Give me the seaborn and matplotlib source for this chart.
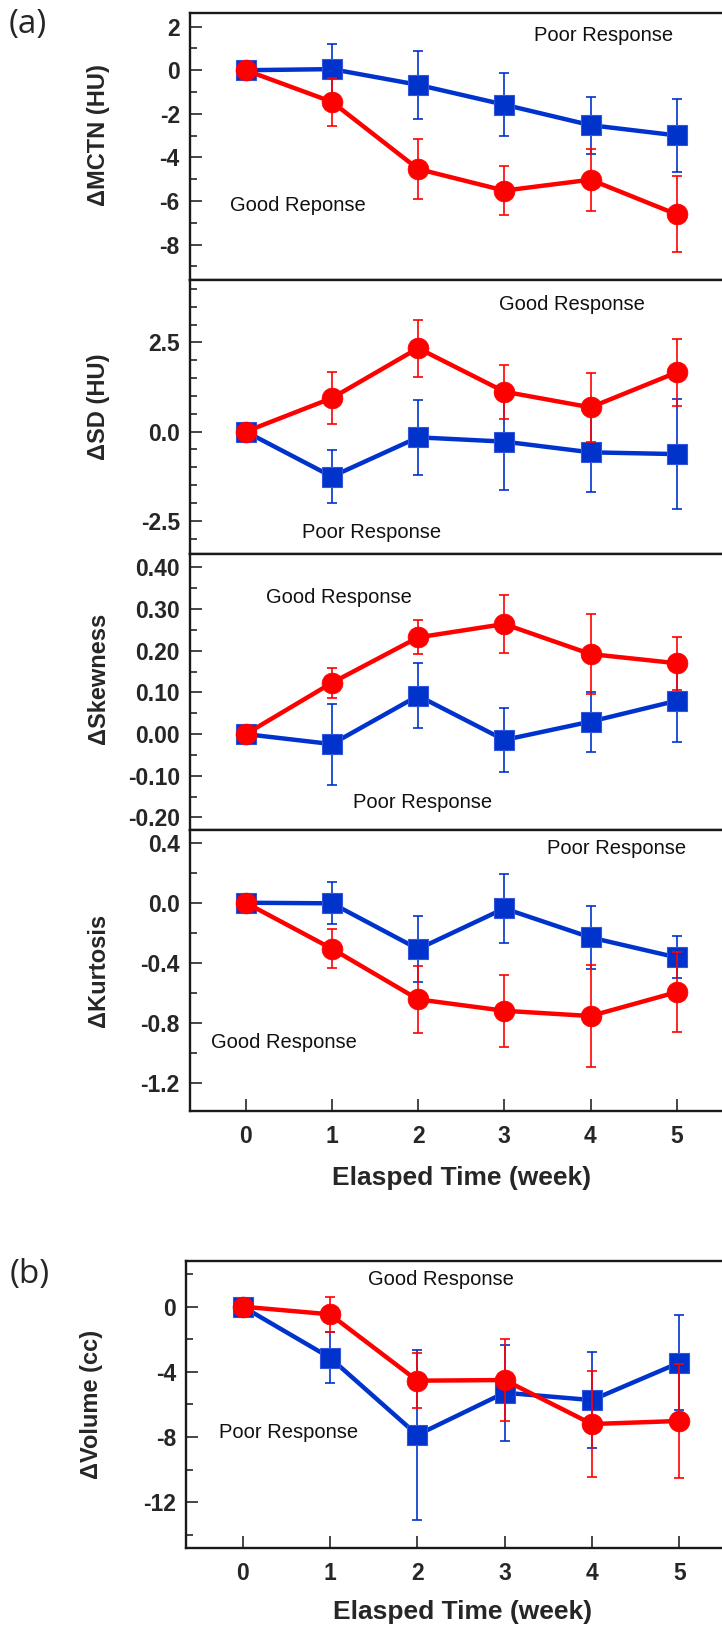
import matplotlib
matplotlib.use("Agg")
import matplotlib.pyplot as plt
import seaborn as sns
import numpy as np
from matplotlib.ticker import MultipleLocator, FormatStrFormatter

# ---------------- data ----------------
weeks = [0, 1, 2, 3, 4, 5]

good_mctn = [0, -1.45, -4.53, -5.52, -5.02, -6.61]
good_mctn_err = [0, 1.10, 1.37, 1.14, 1.43, 1.74]
poor_mctn = [0, 0.05, -0.67, -1.58, -2.52, -2.99]
poor_mctn_err = [0, 1.16, 1.55, 1.45, 1.30, 1.69]

good_sd = [0, 0.94, 2.34, 1.12, 0.68, 1.66]
good_sd_err = [0, 0.73, 0.80, 0.76, 0.97, 0.93]
poor_sd = [0, -1.26, -0.16, -0.28, -0.58, -0.63]
poor_sd_err = [0, 0.74, 1.06, 1.36, 1.12, 1.55]

good_skew = [0, 0.123, 0.232, 0.264, 0.192, 0.170]
good_skew_err = [0, 0.036, 0.041, 0.070, 0.096, 0.064]
poor_skew = [0, -0.024, 0.092, -0.014, 0.030, 0.080]
poor_skew_err = [0, 0.097, 0.078, 0.077, 0.072, 0.100]

good_kurt = [0, -0.306, -0.643, -0.719, -0.754, -0.595]
good_kurt_err = [0, 0.13, 0.224, 0.238, 0.34, 0.266]
poor_kurt = [0, -0.004, -0.308, -0.038, -0.231, -0.364]
poor_kurt_err = [0, 0.14, 0.22, 0.23, 0.21, 0.14]

good_vol = [0, -0.47, -4.54, -4.50, -7.20, -7.01]
good_vol_err = [0, 1.06, 1.67, 2.5, 3.23, 3.49]
poor_vol = [0, -3.13, -7.87, -5.28, -5.73, -3.44]
poor_vol_err = [0, 1.55, 5.2, 2.93, 2.95, 2.9]

ylabels = ["\u0394MCTN (HU)", "\u0394SD (HU)", "\u0394Skewness", "\u0394Kurtosis", "\u0394Volume (cc)"]
xlabel = "Elasped Time (week)"

# ---------------- style ----------------
sns.set_style("ticks")
plt.rcParams["font.family"] = ["Liberation Sans", "DejaVu Sans"]
plt.rcParams["axes.unicode_minus"] = False

BLUE = "#0033CC"
RED = "#FF0000"

W, H = 722, 1627
fig = plt.figure(figsize=(W / 100, H / 100), dpi=100)

RIGHT_PX = 745


def make_ax(left, top, bottom, x0_px, ppu_x):
    ax = fig.add_axes([left / W, 1 - bottom / H, (RIGHT_PX - left) / W, (bottom - top) / H])
    xmin = (left - x0_px) / ppu_x
    xmax = (RIGHT_PX - x0_px) / ppu_x
    ax.set_xlim(xmin, xmax)
    for s in ax.spines.values():
        s.set_linewidth(1.7)
        s.set_color("#1a1a1a")
    return ax


def draw(ax, good, good_err, poor, poor_err):
    ax.errorbar(weeks, poor, yerr=poor_err, fmt="none", ecolor=BLUE, elinewidth=1.2,
                capsize=3.6, capthick=1.2, zorder=2)
    sns.lineplot(x=weeks, y=poor, ax=ax, color=BLUE, linewidth=3.2, marker="s",
                 markersize=15, markeredgecolor="#3355dd", markeredgewidth=0.8,
                 errorbar=None, zorder=3)
    ax.errorbar(weeks, good, yerr=good_err, fmt="none", ecolor=RED, elinewidth=1.2,
                capsize=3.6, capthick=1.2, zorder=4)
    sns.lineplot(x=weeks, y=good, ax=ax, color=RED, linewidth=3.2, marker="o",
                 markersize=15, markeredgecolor=RED, markeredgewidth=0.5,
                 errorbar=None, zorder=5)


def yfmt(ax, ylim, major, minor, fmt, label, label_y, label_x_px, left, right_px=RIGHT_PX):
    ax.set_ylim(*ylim)
    ax.yaxis.set_major_locator(MultipleLocator(major))
    ax.yaxis.set_minor_locator(MultipleLocator(minor))
    ax.yaxis.set_major_formatter(FormatStrFormatter(fmt))
    ax.tick_params(axis="y", which="major", direction="in", length=8.5, width=1.2,
                   pad=7, labelsize=16.5)
    ax.tick_params(axis="y", which="minor", direction="in", length=5, width=1.2)
    for t in ax.get_yticklabels():
        t.set_fontweight("bold")
    ax.set_ylabel(label, fontsize=17, fontweight="bold")
    ax.yaxis.set_label_coords((label_x_px - left) / (right_px - left), label_y)


def xfmt(ax, show, left, label_center_px=None, label_top_frac=None):
    ax.xaxis.set_major_locator(MultipleLocator(1))
    if show:
        ax.set_xticks(weeks)
        ax.set_xticklabels([str(w) for w in weeks], fontweight="bold")
        ax.tick_params(axis="x", which="major", direction="in", length=8.5, width=1.2,
                       pad=10, labelsize=16.5)
        ax.set_xlabel(xlabel, fontsize=19, fontweight="bold")
        ax.xaxis.set_label_coords((label_center_px - left) / (RIGHT_PX - left), label_top_frac)
    else:
        ax.set_xticks([])
        ax.set_xlabel("")


def note(ax, x, y, s):
    ax.text(x, y, s, fontsize=14.5, ha="left", va="center", color="#111111", zorder=6)


LA = 189.5
X0A = 245.7
PPUA = 86.2

# panel a1
ax1 = make_ax(LA, 13.3, 280, X0A, PPUA)
draw(ax1, good_mctn, good_mctn_err, poor_mctn, poor_mctn_err)
yfmt(ax1, (-9.62, 2.61), 2, 1, "%d", ylabels[0], 0.545, 110, LA)
xfmt(ax1, False, LA)
note(ax1, 3.35, 1.6, "Poor Response")
note(ax1, -0.18, -6.2, "Good Reponse")

# panel a2
ax2 = make_ax(LA, 280, 554, X0A, PPUA)
draw(ax2, good_sd, good_sd_err, poor_sd, poor_sd_err)
yfmt(ax2, (-3.43, 4.25), 2.5, 0.5, "%.1f", ylabels[1], 0.536, 110, LA)
xfmt(ax2, False, LA)
note(ax2, 2.94, 3.56, "Good Response")
note(ax2, 0.65, -2.83, "Poor Response")

# panel a3
ax3 = make_ax(LA, 554, 830, X0A, PPUA)
draw(ax3, good_skew, good_skew_err, poor_skew, poor_skew_err)
yfmt(ax3, (-0.230, 0.432), 0.1, 0.05, "%.2f", ylabels[2], 0.55, 110, LA)
xfmt(ax3, False, LA)
note(ax3, 0.23, 0.328, "Good Response")
note(ax3, 1.24, -0.164, "Poor Response")

# panel a4
ax4 = make_ax(LA, 830, 1110.7, X0A, PPUA)
draw(ax4, good_kurt, good_kurt_err, poor_kurt, poor_kurt_err)
yfmt(ax4, (-1.384, 0.484), 0.4, 0.2, "%.1f", ylabels[3], 0.5, 110, LA)
xfmt(ax4, True, LA, 462, -(1166 - 1110.7) / (1110.7 - 830))
note(ax4, 3.5, 0.362, "Poor Response")
note(ax4, -0.40, -0.931, "Good Response")

# panel b
LB = 185.6
axb = make_ax(LB, 1261, 1548.3, 242.7, 87.3)
draw(axb, good_vol, good_vol_err, poor_vol, poor_vol_err)
yfmt(axb, (-14.82, 2.80), 4, 2, "%d", ylabels[4], 0.5, 103, LB)
xfmt(axb, True, LB, 463, -(1600 - 1548.3) / (1548.3 - 1261))
note(axb, 1.44, 1.64, "Good Response")
note(axb, -0.27, -7.71, "Poor Response")

fig.text(28 / W, 1 - 24 / H, "(a)", fontsize=24, family=["Open Sans", "DejaVu Sans"],
         ha="center", va="center")
fig.text(30 / W, 1 - 1274 / H, "(b)", fontsize=24, family=["Open Sans", "DejaVu Sans"],
         ha="center", va="center")

fig.savefig("out.png", dpi=100)
